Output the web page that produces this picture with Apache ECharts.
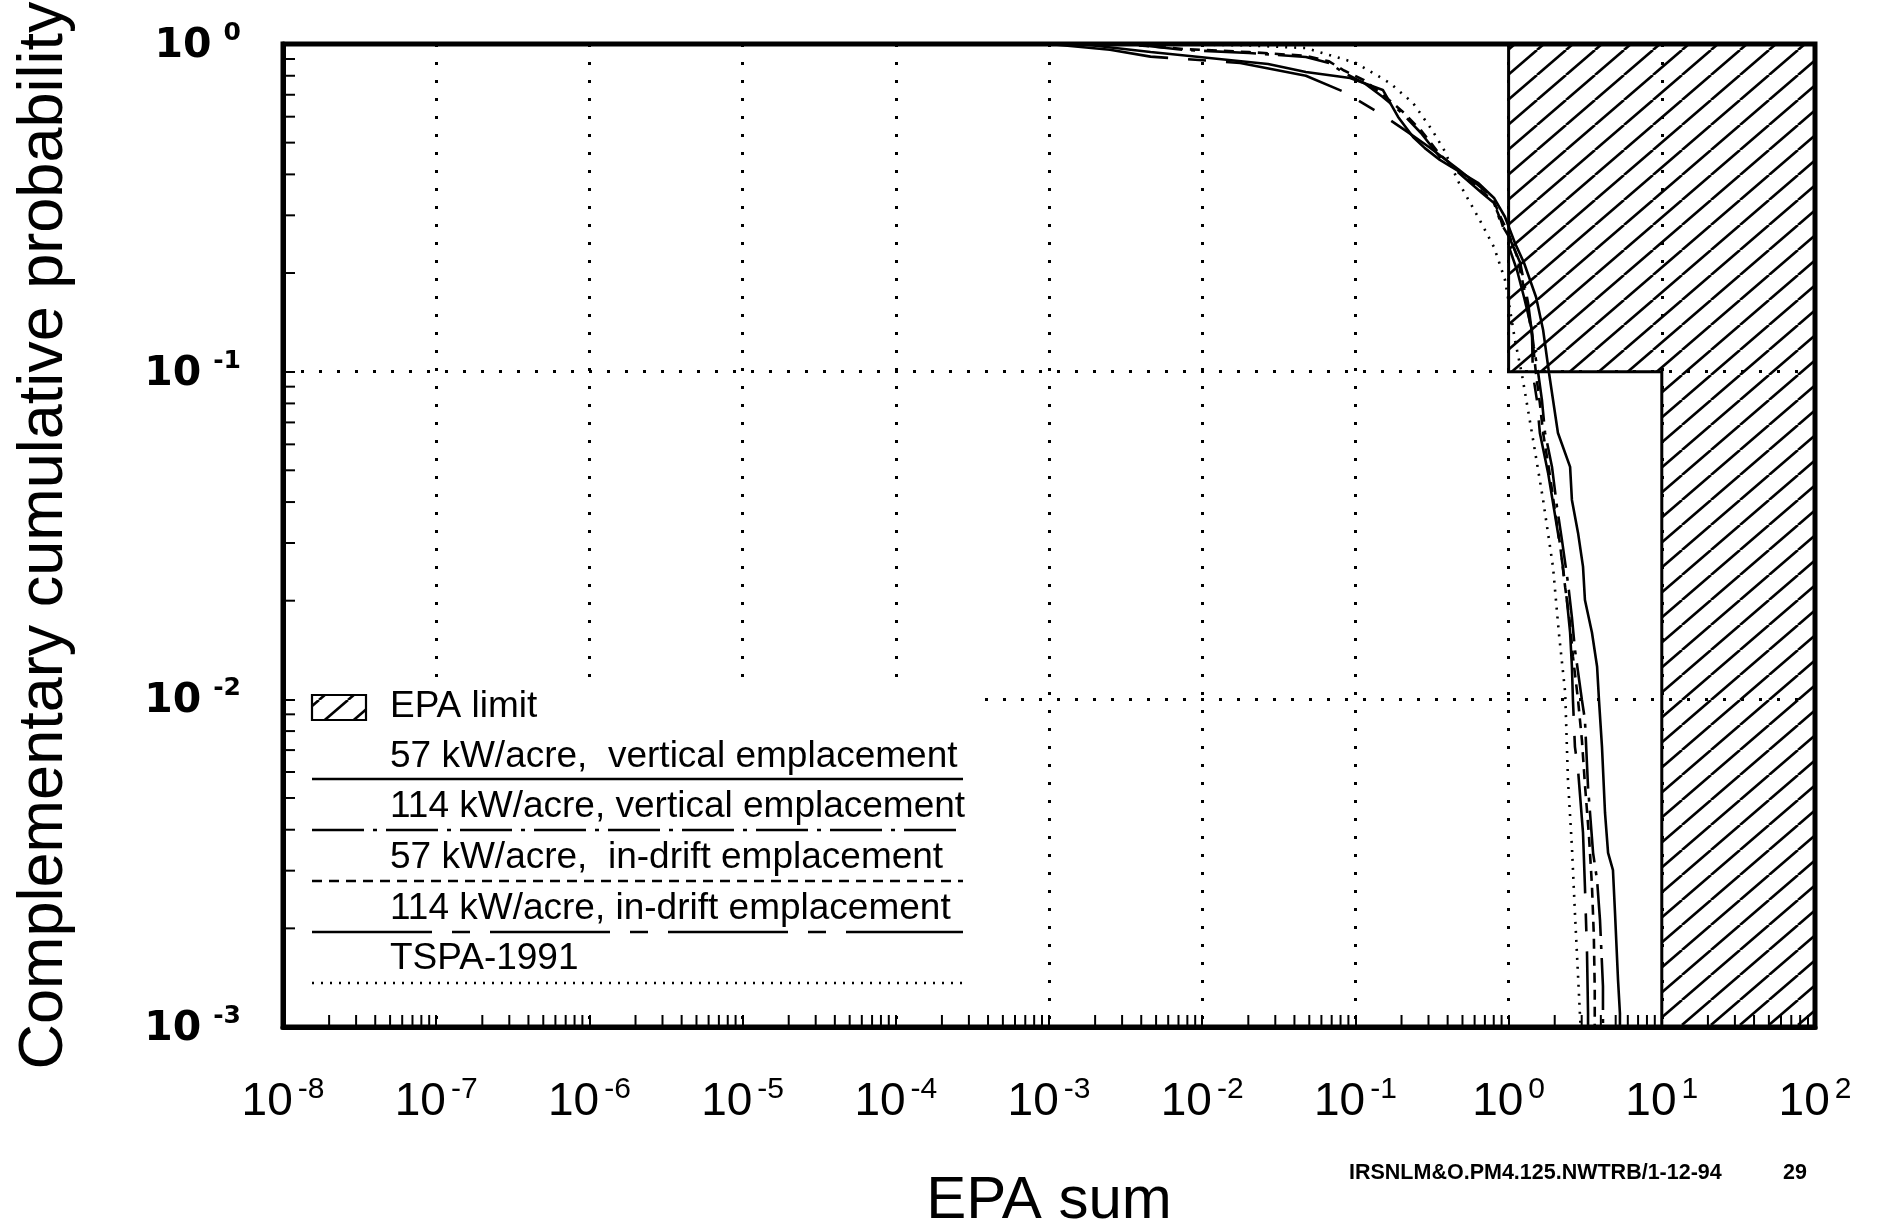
<!DOCTYPE html>
<html>
<head>
<meta charset="utf-8">
<script src="https://cdn.jsdelivr.net/npm/echarts@6/dist/echarts.min.js"></script>
<style>
  html, body { margin: 0; padding: 0; background: #fff; }
  #chart { width: 1880px; height: 1228px; }
</style>
</head>
<body>
<div id="chart"></div>
<script>
// Axis decades (EPA sum on x, complementary cumulative probability on y)
const xTickValues = [1e-8, 1e-7, 1e-6, 1e-5, 1e-4, 1e-3, 1e-2, 1e-1, 1, 10, 100];
const yTickValues = [1e-3, 1e-2, 1e-1, 1];
const minorMultipliers = [2, 3, 4, 5, 6, 7, 8, 9];

// EPA release limit region: [EPA sum, probability] vertices
const epaLimitOutline = [[1, 1], [100, 1], [100, 0.001], [10, 0.001], [10, 0.1], [1, 0.1]];

// CCDF curves: [EPA sum, complementary cumulative probability]
const ccdf57Vertical = [
  [0.0016, 1.0], [0.0046, 0.945], [0.0269, 0.869], [0.0475, 0.821], [0.0923, 0.787],
  [0.151, 0.724], [0.190, 0.599], [0.238, 0.520], [0.284, 0.481], [0.356, 0.443],
  [0.631, 0.377], [0.803, 0.339], [0.946, 0.297], [1.10, 0.247], [1.26, 0.215],
  [1.51, 0.169], [1.68, 0.134], [1.84, 0.0984], [2.10, 0.0650], [2.52, 0.0512],
  [2.59, 0.0406], [2.84, 0.0322], [3.06, 0.0254], [3.15, 0.0201], [3.50, 0.0160],
  [3.78, 0.0126], [3.89, 0.00995], [4.07, 0.00716], [4.26, 0.0045], [4.46, 0.0034],
  [4.80, 0.00301], [4.95, 0.00223], [5.18, 0.00139], [5.33, 0.0011], [5.33, 0.001]
];
const ccdf114Vertical = [
  [0.0034, 1.0], [0.0076, 0.959], [0.0202, 0.939], [0.0475, 0.913], [0.0673, 0.875],
  [0.0843, 0.816], [0.114, 0.760], [0.151, 0.689], [0.201, 0.616], [0.268, 0.535],
  [0.356, 0.452], [0.474, 0.404], [0.670, 0.351], [0.803, 0.327], [0.891, 0.284],
  [1.006, 0.258], [1.19, 0.215], [1.34, 0.162], [1.46, 0.119], [1.56, 0.0991],
  [1.65, 0.082], [1.73, 0.065], [1.92, 0.0512], [2.07, 0.0386], [2.23, 0.0306],
  [2.44, 0.0227], [2.59, 0.0178], [2.71, 0.0142], [3.01, 0.00995], [3.15, 0.00865],
  [3.30, 0.0054], [3.56, 0.0034], [3.78, 0.00281], [3.95, 0.00212], [4.13, 0.00133],
  [4.13, 0.001]
];
const ccdf57InDrift = [
  [0.0030, 1.0], [0.0076, 0.965], [0.0202, 0.945], [0.0475, 0.920], [0.0673, 0.885],
  [0.0843, 0.830], [0.114, 0.775], [0.151, 0.700], [0.201, 0.625], [0.268, 0.545],
  [0.356, 0.460], [0.474, 0.410], [0.670, 0.355], [0.803, 0.330], [0.891, 0.295],
  [1.006, 0.262], [1.135, 0.225], [1.26, 0.180], [1.42, 0.130], [1.51, 0.0984],
  [1.60, 0.080], [1.68, 0.065], [1.84, 0.050], [2.00, 0.038], [2.16, 0.030],
  [2.34, 0.022], [2.52, 0.017], [2.63, 0.0135], [2.84, 0.00995], [3.01, 0.0075],
  [3.15, 0.0055], [3.35, 0.0038], [3.50, 0.0027], [3.60, 0.0019], [3.65, 0.0013],
  [3.65, 0.001]
];
const ccdf114InDrift = [
  [0.0010, 1.0], [0.0025, 0.960], [0.0046, 0.915], [0.0177, 0.875], [0.0475, 0.800],
  [0.0843, 0.714], [0.151, 0.607], [0.214, 0.543], [0.302, 0.485], [0.474, 0.413],
  [0.631, 0.371], [0.757, 0.346], [0.891, 0.290], [1.006, 0.240], [1.135, 0.204],
  [1.26, 0.169], [1.42, 0.134], [1.44, 0.0984], [1.53, 0.0820], [1.60, 0.0650],
  [1.81, 0.0491], [2.10, 0.0322], [2.26, 0.0254], [2.40, 0.0201], [2.52, 0.0160],
  [2.59, 0.0126], [2.63, 0.00995], [2.71, 0.00716], [2.84, 0.00609], [3.06, 0.00391],
  [3.15, 0.00268], [3.25, 0.00168], [3.30, 0.0011], [3.30, 0.001]
];
const ccdfTspa1991 = [
  [0.006, 1.0], [0.020, 0.990], [0.0475, 0.972], [0.101, 0.875], [0.168, 0.760],
  [0.238, 0.660], [0.316, 0.547], [0.379, 0.475], [0.474, 0.377], [0.631, 0.297],
  [0.803, 0.240], [0.946, 0.191], [1.005, 0.162], [1.10, 0.125], [1.22, 0.0984],
  [1.42, 0.065], [1.68, 0.0406], [1.95, 0.0253], [2.13, 0.0159], [2.34, 0.0105],
  [2.44, 0.00568], [2.59, 0.00355], [2.71, 0.00223], [2.92, 0.0011], [2.95, 0.001]
];

const seriesNames = [
  '57 kW/acre,  vertical emplacement',
  '114 kW/acre, vertical emplacement',
  '57 kW/acre,  in-drift emplacement',
  '114 kW/acre, in-drift emplacement',
  'TSPA-1991'
];
const seriesData = [ccdf57Vertical, ccdf114Vertical, ccdf57InDrift, ccdf114InDrift, ccdfTspa1991];
const epaLimitLabel = 'EPA limit';

// Line patterns, one per curve
const dashPatterns = ['solid', [52, 9, 4, 9], [10, 7], [120, 20, 18, 20], [2, 7]];

// Diagonal hatch tile for the limit region
function makeHatchTile() {
  const W = 29, H = 25;
  const c = document.createElement('canvas');
  c.width = W; c.height = H;
  const g = c.getContext('2d');
  g.strokeStyle = '#000';
  g.lineWidth = 2.6;
  for (const dx of [-W, 0, W]) {
    g.beginPath();
    g.moveTo(dx, H);
    g.lineTo(dx + W, 0);
    g.stroke();
  }
  return c;
}
const hatchFill = { image: makeHatchTile(), repeat: 'repeat' };

function powerLabel(value) {
  const e = Math.round(Math.log10(value));
  return '{b|10}{s|' + e + '}';
}

const chart = echarts.init(document.getElementById('chart'), null, { renderer: 'canvas', width: 1880, height: 1228 });

const gridLeft = 283, gridTop = 44, gridRight = 1815, gridBottom = 1027;
const dotted = { color: '#000', width: 3, type: [3, 15] };

const curveSeries = seriesNames.map((name, i) => ({
  name: name,
  type: 'line',
  data: seriesData[i],
  showSymbol: false,
  symbol: 'none',
  smooth: false,
  z: 4,
  silent: true,
  lineStyle: { color: '#000', width: 2.6, type: dashPatterns[i] }
}));

// Legend: text above a sample of each line style, on a white panel
const LZ = 100;
const legendX = 312, legendLineEnd = 963, legendTextX = 390;
const legendTextY = [707, 757, 807, 858, 909, 959];
const legendLineY = [779, 830, 881, 932, 983];
const legendFont = { fontFamily: 'Liberation Sans', fontSize: 37, fill: '#000', verticalAlign: 'middle' };
const legendElements = [
  { type: 'rect', z: LZ, shape: { x: 298, y: 683, width: 684, height: 327 }, style: { fill: '#fff' } },
  { type: 'rect', z: LZ + 1, shape: { x: 312, y: 695, width: 54, height: 25 }, style: { fill: hatchFill, stroke: '#000', lineWidth: 2.2 } },
  { type: 'text', z: LZ + 1, x: legendTextX, y: legendTextY[0], style: Object.assign({ text: epaLimitLabel }, legendFont) }
];
seriesNames.forEach((name, i) => {
  legendElements.push({ type: 'text', z: LZ + 1, x: legendTextX, y: legendTextY[i + 1],
    style: Object.assign({ text: name }, legendFont) });
  legendElements.push({ type: 'line', z: LZ + 1,
    shape: { x1: legendX, y1: legendLineY[i], x2: legendLineEnd, y2: legendLineY[i] },
    style: { stroke: '#000', lineWidth: 2.5, lineDash: dashPatterns[i] === 'solid' ? null : dashPatterns[i] } });
});

const option = {
  animation: false,
  backgroundColor: '#fff',
  grid: {
    left: gridLeft, top: gridTop,
    width: gridRight - gridLeft, height: gridBottom - gridTop,
    show: true, borderColor: '#000', borderWidth: 5, backgroundColor: 'transparent',
    containLabel: false,
    outerBoundsMode: 'none'
  },
  xAxis: {
    type: 'log', logBase: 10, min: 1e-8, max: 100,
    position: 'bottom',
    axisLine: { show: true, onZero: false, lineStyle: { color: '#000', width: 5 } },
    axisTick: { show: true, inside: true, length: 12, lineStyle: { color: '#000', width: 2 }, customValues: xTickValues },
    axisLabel: {
      show: true, customValues: xTickValues, margin: 48, color: '#000',
      showMinLabel: true, showMaxLabel: true, hideOverlap: false,
      formatter: powerLabel,
      rich: {
        b: { fontFamily: 'Liberation Sans', fontSize: 46, lineHeight: 50, verticalAlign: 'bottom', color: '#000' },
        s: { fontFamily: 'Liberation Sans', fontSize: 30, lineHeight: 32, verticalAlign: 'top', padding: [0, 0, 0, 5], color: '#000' }
      }
    },
    splitLine: { show: true, lineStyle: dotted },
    minorTick: { show: false },
    minorSplitLine: { show: false },
    name: 'EPA sum', nameLocation: 'middle', nameGap: 144,
    nameTextStyle: { fontFamily: 'Liberation Sans', fontSize: 60, color: '#000' }
  },
  yAxis: {
    type: 'log', logBase: 10, min: 1e-3, max: 1,
    position: 'left',
    axisLine: { show: true, onZero: false, lineStyle: { color: '#000', width: 5 } },
    axisTick: { show: true, inside: true, length: 12, lineStyle: { color: '#000', width: 2 }, customValues: yTickValues },
    axisLabel: {
      show: true, customValues: yTickValues, margin: 42, color: '#000',
      showMinLabel: true, showMaxLabel: true, hideOverlap: false,
      formatter: powerLabel,
      rich: {
        b: { fontFamily: 'DejaVu Sans', fontWeight: 'bold', fontSize: 41, lineHeight: 46, verticalAlign: 'bottom', color: '#000' },
        s: { fontFamily: 'DejaVu Sans', fontWeight: 'bold', fontSize: 25, lineHeight: 27, verticalAlign: 'top', padding: [0, 0, 0, 12], color: '#000' }
      }
    },
    splitLine: { show: true, lineStyle: dotted },
    minorTick: { show: false },
    minorSplitLine: { show: false },
    name: 'Complementary cumulative probability', nameLocation: 'middle', nameRotate: 90, nameGap: 207,
    nameTextStyle: { fontFamily: 'Liberation Sans', fontSize: 63, color: '#000' }
  },
  graphic: legendElements.concat([
    { type: 'text', x: 1349, y: 1173, z: LZ,
      style: { text: 'IRSNLM&O.PM4.125.NWTRB/1-12-94', fontFamily: 'Liberation Sans', fontWeight: 'bold', fontSize: 21.5, fill: '#000', verticalAlign: 'middle' } },
    { type: 'text', x: 1795, y: 1173, z: LZ,
      style: { text: '29', fontFamily: 'Liberation Sans', fontWeight: 'bold', fontSize: 21.5, fill: '#000', align: 'center', verticalAlign: 'middle' } }
  ]),
  series: [
    {
      name: epaLimitLabel,
      type: 'custom',
      coordinateSystem: 'cartesian2d',
      data: [epaLimitOutline[0]],
      z: 3,
      silent: true,
      clip: false,
      renderItem: function (params, api) {
        const pts = epaLimitOutline.map(p => api.coord(p));
        return {
          type: 'polygon',
          shape: { points: pts },
          style: { fill: hatchFill, stroke: '#000', lineWidth: 3 }
        };
      }
    },
    {
      // log-spaced minor ticks on the bottom and left axes
      name: 'minor ticks',
      type: 'custom',
      coordinateSystem: 'cartesian2d',
      data: [[1, 0.5]],
      z: 6,
      silent: true,
      clip: false,
      renderItem: function (params, api) {
        const children = [];
        const yMin = yTickValues[0], xMin = xTickValues[0];
        for (let i = 0; i < xTickValues.length - 1; i++) {
          minorMultipliers.forEach(m => {
            const p = api.coord([xTickValues[i] * m, yMin]);
            children.push({ type: 'line', shape: { x1: p[0], y1: p[1], x2: p[0], y2: p[1] - 12 },
              style: { stroke: '#000', lineWidth: 2 } });
          });
        }
        for (let i = 0; i < yTickValues.length - 1; i++) {
          minorMultipliers.forEach(m => {
            const p = api.coord([xMin, yTickValues[i] * m]);
            children.push({ type: 'line', shape: { x1: p[0], y1: p[1], x2: p[0] + 12, y2: p[1] },
              style: { stroke: '#000', lineWidth: 2 } });
          });
        }
        return { type: 'group', children: children };
      }
    }
  ].concat(curveSeries)
};

chart.setOption(option);
</script>
</body>
</html>
